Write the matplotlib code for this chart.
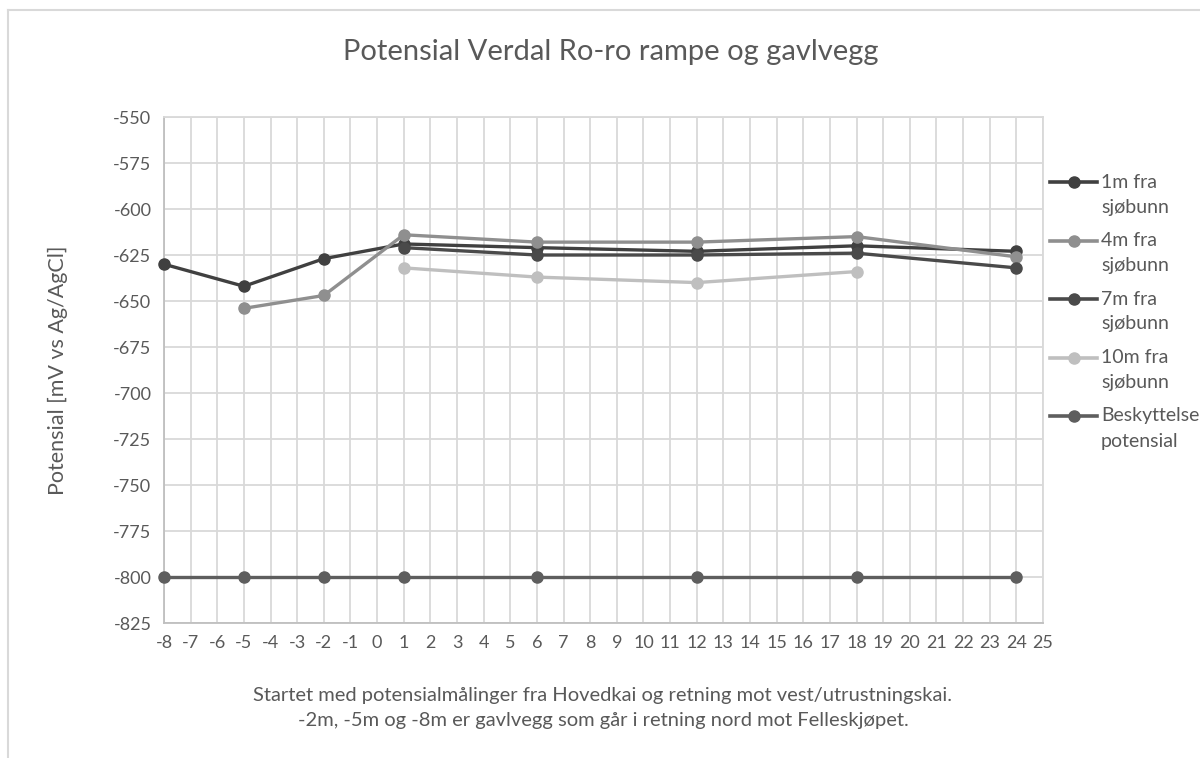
import matplotlib
matplotlib.use("Agg")
import matplotlib.pyplot as plt
from matplotlib.lines import Line2D
import numpy as np

plt.rcParams['font.family'] = ['Lato', 'DejaVu Sans']
plt.rcParams['axes.unicode_minus'] = False

# avstand langs kai [m]
x_1m = [-8, -5, -2, 1, 6, 12, 18, 24]
y_1m = [-630, -642, -627, -619, -621, -623, -620, -623]

x_4m = [-5, -2, 1, 6, 12, 18, 24]
y_4m = [-654, -647, -614, -618, -618, -615, -626]

x_7m = [1, 6, 12, 18, 24]
y_7m = [-621, -625, -625, -624, -632]

x_10m = [1, 6, 12, 18]
y_10m = [-632, -637, -640, -634]

x_besk = [-8, -5, -2, 1, 6, 12, 18, 24]
y_besk = [-800, -800, -800, -800, -800, -800, -800, -800]

labels = ['1m fra\nsjøbunn', '4m fra\nsjøbunn', '7m fra\nsjøbunn',
          '10m fra\nsjøbunn', 'Beskyttelses\npotensial']
colors = ['#404040', '#8f8f8f', '#4a4a4a', '#bfbfbf', '#5e5e5e']

txt = '#595959'
grid = '#d9d9d9'
W, H = 1200, 758

fig = plt.figure(figsize=(12, 7.58), dpi=100)
ax = fig.add_axes([164 / W, 1 - 623 / H, (1043 - 164) / W, (623 - 117) / H])

series = [(x_1m, y_1m), (x_4m, y_4m), (x_7m, y_7m), (x_10m, y_10m), (x_besk, y_besk)]
for (xs, ys), lab, c in zip(series, labels, colors):
    ax.plot(xs, ys, color=c, lw=2.4, marker='o', ms=8, label=lab, clip_on=False, zorder=3)

ax.set_xlim(-8, 25)
ax.set_ylim(-825, -550)
ax.set_xticks(np.arange(-8, 26, 1))
ax.set_yticks(np.arange(-825, -549, 25))
ax.grid(True, color=grid, lw=1.3)
ax.set_axisbelow(True)
for s in ax.spines.values():
    s.set_color(grid)
    s.set_linewidth(1.3)
ax.spines['left'].set_color('#bfbfbf')
ax.spines['bottom'].set_color('#bfbfbf')
ax.tick_params(length=0, labelsize=13, colors=txt, pad=9)

fig.text(58 / W, 1 - 370 / H, 'Potensial [mV vs Ag/AgCl]', rotation=90,
         ha='center', va='center', fontsize=15.5, color=txt)
fig.text(603 / W, 1 - 708 / H,
         'Startet med potensialmålinger fra Hovedkai og retning mot vest/utrustningskai.\n'
         '-2m, -5m og -8m er gavlvegg som går i retning nord mot Felleskjøpet.',
         ha='center', va='center', fontsize=14.5, color=txt, linespacing=1.6)

fig.text(611 / W, 1 - 52 / H, 'Potensial Verdal Ro-ro rampe og gavlvegg',
         ha='center', va='center', fontsize=21, color=txt)

# legende til hoyre, markoren ligger pa forste tekstlinje
for i, (lab, c) in enumerate(zip(labels, colors)):
    y0 = 182 + 58.5 * i
    fig.add_artist(Line2D([1050 / W, 1097 / W], [1 - y0 / H, 1 - y0 / H],
                          transform=fig.transFigure, color=c, lw=2.6))
    fig.add_artist(Line2D([1073.5 / W], [1 - y0 / H], transform=fig.transFigure,
                          color=c, marker='o', ms=8))
    for j, line in enumerate(lab.split('\n')):
        fig.text(1101 / W, 1 - (y0 + 25 * j) / H, line, ha='left', va='center',
                 fontsize=14, color=txt)

# ramme rundt diagrammet
fig.add_artist(Line2D([8 / W, 8 / W], [0, 1 - 10 / H],
                      transform=fig.transFigure, color='#d9d9d9', lw=1.5))
fig.add_artist(Line2D([8 / W, 1], [1 - 10 / H, 1 - 10 / H],
                      transform=fig.transFigure, color='#d9d9d9', lw=1.5))

fig.savefig('out.png', dpi=100)
